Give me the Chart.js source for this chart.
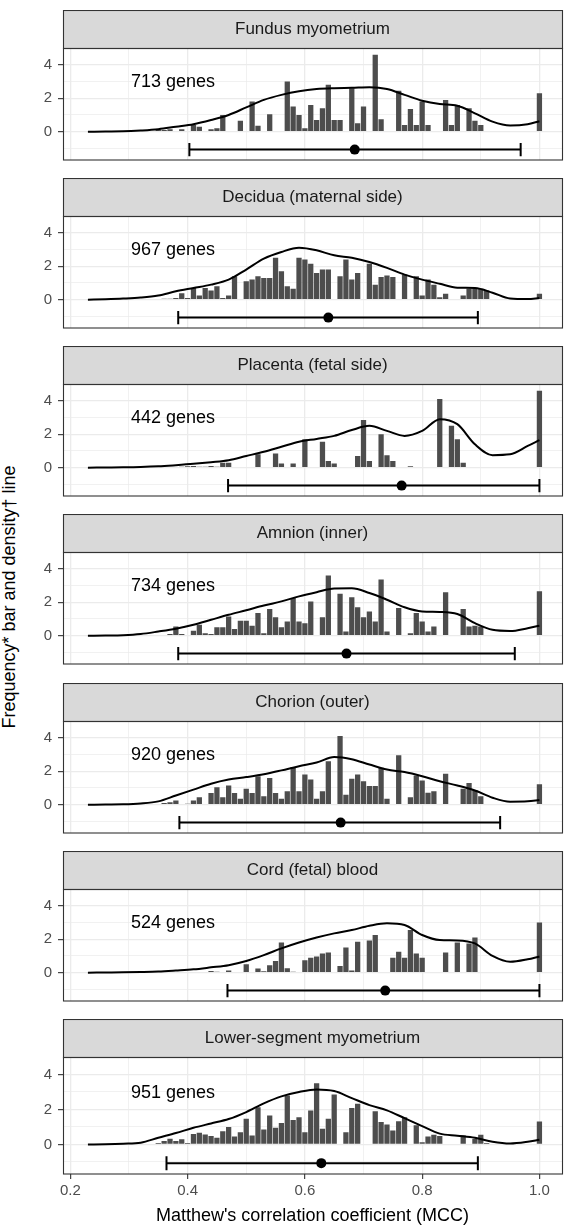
<!DOCTYPE html>
<html>
<head>
<meta charset="utf-8">
<script src="https://cdn.jsdelivr.net/npm/chart.js@4/dist/chart.umd.min.js"></script>
<style>
  html, body { margin: 0; padding: 0; background: #fff; width: 564px; height: 1231px; overflow: hidden; position: relative; }
  canvas { position: absolute; left: 0; }
  #ytitle {
    position: absolute; left: -190px; top: 586px; width: 400px; height: 22px; line-height: 22px;
    text-align: center; transform: rotate(-90deg); white-space: nowrap;
    font: 18px "Liberation Sans", Arial, sans-serif; color: #000;
  }
</style>
</head>
<body>
<div id="ytitle">Frequency* bar and density† line</div>
<script>
// Facet titles and annotation counts
const PANELS = [
  'Fundus myometrium', 'Decidua (maternal side)', 'Placenta (fetal side)',
  'Amnion (inner)', 'Chorion (outer)', 'Cord (fetal) blood', 'Lower-segment myometrium'
];
const GENES = [713, 967, 442, 734, 920, 524, 951];

// Axis ticks
const X_TICKS = [0.2, 0.3, 0.4, 0.5, 0.6, 0.7, 0.8, 0.9, 1.0];
const X_LABELED = [0.2, 0.4, 0.6, 0.8, 1.0];
const Y_TICKS = [-1, 0, 1, 2, 3, 4];
const Y_LABELED = [0, 2, 4];

// Histogram bin centres (width 0.01)
const BINS = [
  0.34, 0.35, 0.36, 0.37, 0.38, 0.39, 0.40, 0.41, 0.42, 0.43,
  0.44, 0.45, 0.46, 0.47, 0.48, 0.49, 0.50, 0.51, 0.52, 0.53,
  0.54, 0.55, 0.56, 0.57, 0.58, 0.59, 0.60, 0.61, 0.62, 0.63,
  0.64, 0.65, 0.66, 0.67, 0.68, 0.69, 0.70, 0.71, 0.72, 0.73,
  0.74, 0.75, 0.76, 0.77, 0.78, 0.79, 0.80, 0.81, 0.82, 0.83,
  0.84, 0.85, 0.86, 0.87, 0.88, 0.89, 0.90, 0.91, 0.92, 0.93,
  0.94, 0.95, 0.96, 0.97, 0.98, 0.99, 1.00
];

// Bar heights per panel, aligned with BINS
const BARS_FUNDUS = [
  0, 0.15, 0.1, 0.15, 0, 0.15, 0, 0.4, 0.3, 0,
  0.15, 0.2, 1.0, 0, 0, 0.65, 0, 1.8, 0.35, 0,
  1.05, 0, 0, 3.0, 1.5, 1.0, 0.2, 1.6, 0.7, 1.4,
  2.8, 0.7, 0.7, 0, 2.6, 0.5, 1.5, 0, 4.6, 0.75,
  0, 0, 2.45, 0.4, 1.35, 0.4, 1.8, 0.4, 0, 0,
  1.9, 0.4, 1.6, 0, 1.4, 0.65, 0.4, 0, 0, 0,
  0, 0, 0, 0, 0, 0, 2.3
];
const BARS_DECIDUA = [
  0, 0, 0.05, 0.05, 0.1, 0.38, 0.1, 0.7, 0.25, 0.7,
  0.55, 0.8, 0.1, 0.25, 1.4, 0, 1.1, 1.2, 1.4, 1.3,
  1.3, 2.5, 1.7, 0.8, 0.65, 2.5, 2.4, 2.15, 1.6, 1.8,
  1.8, 0, 1.4, 2.4, 1.2, 1.6, 0, 2.15, 0.9, 1.35,
  1.45, 1.35, 0, 1.5, 0, 1.4, 0.25, 1.2, 0.9, 0.15,
  0.35, 0, 0, 0.25, 0.65, 0.65, 0.65, 0.55, 0, 0,
  0, 0, 0, 0, 0, 0, 0.35
];
const BARS_PLACENTA = [
  0, 0, 0, 0, 0, 0.05, 0.08, 0.1, 0.05, 0.05,
  0.1, 0.05, 0.3, 0.3, 0, 0, 0, 0, 0.8, 0,
  0, 0.85, 0.25, 0, 0.25, 0, 1.7, 0, 0, 1.55,
  0.4, 0.25, 0, 0, 0, 0.7, 2.85, 0.4, 0, 2.0,
  0.75, 0.4, 0, 0, 0.08, 0, 0, 0, 0, 4.1,
  0, 2.5, 1.7, 0.3, 0, 0, 0, 0, 0, 0,
  0, 0, 0, 0, 0, 0, 4.6
];
const BARS_AMNION = [
  0, 0, 0, 0.1, 0.55, 0.1, 0, 0.3, 0.65, 0.15,
  0.1, 0.5, 0.5, 1.15, 0.4, 0.9, 0.9, 0.6, 1.35, 0.15,
  1.6, 1.1, 0.5, 0.85, 2.25, 0.85, 0.75, 2.05, 0, 1.1,
  3.6, 0, 2.5, 0.25, 2.3, 1.7, 1.1, 1.45, 0.85, 3.35,
  0.25, 0, 1.65, 0, 0.15, 1.35, 0.85, 0.25, 0.55, 0,
  2.6, 0, 0, 1.6, 0.55, 0.6, 0.55, 0, 0, 0,
  0, 0, 0, 0, 0, 0, 2.65
];
const BARS_CHORION = [
  0, 0, 0.1, 0.15, 0.25, 0, 0.05, 0.25, 0.45, 0,
  0.7, 1.05, 0.45, 1.15, 0.7, 0.35, 0.95, 0.7, 1.7, 0.5,
  1.6, 0.7, 0.35, 0.8, 2.25, 0.8, 1.8, 1.5, 0.35, 0.8,
  2.6, 0, 4.1, 0.6, 1.55, 1.8, 1.4, 1.12, 1.12, 2.2,
  0.35, 0, 2.95, 0, 0.45, 1.75, 1.45, 0.72, 0.8, 0,
  1.85, 0, 0, 0.95, 1.3, 0.88, 0.5, 0, 0, 0,
  0, 0, 0, 0, 0, 0, 1.22
];
const BARS_CORD = [
  0, 0, 0, 0, 0, 0, 0, 0, 0, 0,
  0.1, 0.05, 0, 0.13, 0.04, 0, 0.5, 0, 0.25, 0.08,
  0.45, 0.7, 1.8, 0.27, 0.05, 0, 0.75, 0.9, 0.97, 1.15,
  1.2, 0, 0.4, 1.5, 0.13, 1.85, 0, 1.92, 2.25, 0,
  0, 0.9, 1.25, 0.9, 2.55, 1.15, 0.9, 0, 0, 0,
  1.2, 0, 1.8, 0, 1.75, 2.1, 0, 0, 0, 0,
  0, 0, 0, 0, 0, 0, 3.0
];
const BARS_LOWER = [
  0, 0.08, 0.2, 0.32, 0.2, 0.3, 0.08, 0.6, 0.67, 0.57,
  0.48, 0.38, 0.76, 1.0, 0.46, 0.7, 1.47, 0.51, 2.13, 0.86,
  1.66, 0.95, 1.22, 2.8, 1.4, 1.56, 0.7, 1.94, 3.5, 0.9,
  1.47, 2.86, 0, 0.7, 2.08, 2.32, 0, 0, 1.9, 1.28,
  1.14, 0.8, 1.33, 1.56, 0, 1.09, 0.13, 0.46, 0.55, 0.48,
  0, 0, 0, 0.51, 0, 0.32, 0.55, 0.08, 0, 0,
  0, 0, 0, 0, 0, 0, 1.31
];
const BARS = [BARS_FUNDUS, BARS_DECIDUA, BARS_PLACENTA, BARS_AMNION, BARS_CHORION, BARS_CORD, BARS_LOWER];

// Density curve, read at these x positions
const DENS_X = [
  0.23, 0.26, 0.29, 0.32, 0.35, 0.38, 0.41, 0.44, 0.47, 0.50, 0.53, 0.56, 0.59, 0.62,
  0.65, 0.68, 0.71, 0.74, 0.77, 0.80, 0.83, 0.86, 0.89, 0.92, 0.95, 0.98, 1.00
];
const DENS_FUNDUS   = [0, 0.01, 0.02, 0.07, 0.15, 0.3, 0.45, 0.7, 1.0, 1.45, 1.9, 2.2, 2.42, 2.55, 2.6, 2.62, 2.65, 2.55, 2.2, 1.85, 1.65, 1.55, 1.1, 0.6, 0.37, 0.45, 0.63];
const DENS_DECIDUA  = [0, 0.03, 0.07, 0.13, 0.25, 0.5, 0.7, 0.9, 1.2, 1.8, 2.45, 2.85, 3.1, 2.95, 2.65, 2.5, 2.25, 1.9, 1.5, 1.2, 0.95, 0.72, 0.7, 0.42, 0.07, 0.04, 0.1];
const DENS_PLACENTA = [0, 0.01, 0.02, 0.04, 0.08, 0.15, 0.23, 0.33, 0.45, 0.7, 0.95, 1.25, 1.55, 1.72, 1.9, 2.25, 2.5, 2.2, 1.9, 2.2, 2.9, 2.6, 1.4, 0.75, 0.8, 1.3, 1.65];
const DENS_AMNION   = [0, 0.01, 0.03, 0.1, 0.25, 0.42, 0.65, 0.95, 1.25, 1.52, 1.8, 2.05, 2.35, 2.6, 2.82, 2.83, 2.55, 2.15, 1.7, 1.45, 1.42, 1.3, 0.75, 0.35, 0.28, 0.45, 0.6];
const DENS_CHORION  = [0, 0.01, 0.02, 0.07, 0.2, 0.55, 0.9, 1.25, 1.5, 1.65, 1.82, 2.05, 2.3, 2.52, 2.85, 2.72, 2.4, 2.1, 1.95, 1.7, 1.4, 1.15, 0.85, 0.42, 0.18, 0.2, 0.28];
const DENS_CORD     = [0, 0.01, 0.02, 0.04, 0.07, 0.13, 0.2, 0.32, 0.45, 0.7, 1.05, 1.45, 1.8, 2.1, 2.35, 2.55, 2.8, 2.95, 2.85, 2.25, 1.95, 1.93, 1.75, 1.0, 0.65, 0.8, 0.97];
const DENS_LOWER    = [0, 0.01, 0.04, 0.1, 0.38, 0.65, 0.95, 1.2, 1.45, 1.85, 2.35, 2.75, 3.0, 3.14, 3.05, 2.65, 2.25, 1.95, 1.5, 1.05, 0.62, 0.5, 0.38, 0.15, 0.05, 0.15, 0.27];
const DENS = [DENS_FUNDUS, DENS_DECIDUA, DENS_PLACENTA, DENS_AMNION, DENS_CHORION, DENS_CORD, DENS_LOWER];

// Interval (horizontal error bar) and centre point per panel
const ERR_LO  = [0.403, 0.384, 0.469, 0.384, 0.386, 0.468, 0.364];
const ERR_MID = [0.685, 0.640, 0.765, 0.671, 0.661, 0.737, 0.628];
const ERR_HI  = [0.968, 0.895, 1.000, 0.958, 0.933, 1.000, 0.895];
const ERR_Y = -1.07;
const CAP = 0.4;
const LABEL_X = 0.375, LABEL_Y = 2.95;

const X_MIN = 0.1875, X_MAX = 1.0385;
const Y_MIN = -1.69, Y_MAX = 4.97;

const FONT = '"Liberation Sans", Arial, Helvetica, sans-serif';
const isIn = (list, v) => list.some(t => Math.abs(t - v) < 1e-6);

const facetPlugin = {
  id: 'facet',
  beforeDraw(chart) {
    const { ctx, chartArea: a } = chart;
    ctx.save();
    ctx.fillStyle = '#d9d9d9';
    ctx.fillRect(a.left, 0.5, a.right - a.left, a.top - 0.5);
    ctx.restore();
  },
  afterDatasetsDraw(chart, args, opts) {
    const { ctx, scales } = chart;
    ctx.save();
    ctx.fillStyle = '#000';
    ctx.font = '18px ' + FONT;
    ctx.textAlign = 'center';
    ctx.textBaseline = 'middle';
    ctx.fillText(opts.genes + ' genes', scales.x.getPixelForValue(LABEL_X), scales.y.getPixelForValue(LABEL_Y));
    ctx.restore();
  },
  afterDraw(chart, args, opts) {
    const { ctx, chartArea: a } = chart;
    ctx.save();
    ctx.strokeStyle = '#333';
    ctx.lineWidth = 1.1;
    ctx.strokeRect(a.left + 0.5, 0.5, a.right - a.left, a.top - 0.5);
    ctx.strokeRect(a.left + 0.5, a.top, a.right - a.left, a.bottom - a.top);
    ctx.fillStyle = '#1a1a1a';
    ctx.font = '17px ' + FONT;
    ctx.textAlign = 'center';
    ctx.textBaseline = 'middle';
    ctx.fillText(opts.title, (a.left + a.right) / 2, a.top / 2 + 0.5);
    ctx.restore();
  }
};

function makePanel(i) {
  const last = i === PANELS.length - 1;
  const canvas = document.createElement('canvas');
  canvas.width = 567;
  canvas.height = last ? 212 : 155;
  canvas.style.top = Math.round(9.5 + i * 168.3) + 'px';
  document.body.appendChild(canvas);

  const bars = BINS.map((b, k) => ({ x: b, y: BARS[i][k] })).filter(p => p.y > 0);
  const dens = DENS_X.map((x, k) => ({ x, y: DENS[i][k] }));
  const line = (data) => ({
    type: 'line', data, borderColor: '#000', borderWidth: 2, pointRadius: 0, order: 1
  });

  new Chart(canvas, {
    type: 'bar',
    data: {
      datasets: [
        { type: 'line', data: [{ x: ERR_MID[i], y: ERR_Y }], showLine: false, pointRadius: 5,
          pointBackgroundColor: '#000', pointBorderWidth: 0, order: 0 },
        line([{ x: ERR_LO[i], y: ERR_Y }, { x: ERR_HI[i], y: ERR_Y }]),
        line([{ x: ERR_LO[i], y: ERR_Y - CAP }, { x: ERR_LO[i], y: ERR_Y + CAP }]),
        line([{ x: ERR_HI[i], y: ERR_Y - CAP }, { x: ERR_HI[i], y: ERR_Y + CAP }]),
        { type: 'line', data: dens, borderColor: '#000', borderWidth: 2, pointRadius: 0,
          cubicInterpolationMode: 'monotone', order: 2 },
        { type: 'bar', data: bars, backgroundColor: '#4d4d4d', borderWidth: 0,
          barPercentage: 0.9, categoryPercentage: 1, order: 5 }
      ]
    },
    options: {
      responsive: false,
      animation: false,
      events: [],
      layout: { padding: { top: 38.5, left: 0, right: 0, bottom: 0 } },
      plugins: {
        legend: { display: false },
        tooltip: { enabled: false },
        facet: { title: PANELS[i], genes: GENES[i] }
      },
      scales: {
        x: {
          type: 'linear', min: X_MIN, max: X_MAX, offset: false,
          afterBuildTicks: s => { s.ticks = X_TICKS.map(v => ({ value: v })); },
          afterFit: s => { s.height = last ? 57 : 0; s.paddingLeft = 0; s.paddingRight = 0; },
          border: { display: false },
          grid: {
            offset: false,
            color: '#ebebeb',
            lineWidth: c => (c.tick && isIn(X_LABELED, c.tick.value)) ? 1.3 : 0.7,
            drawTicks: last,
            tickLength: 5,
            tickWidth: 1.1,
            tickColor: c => (c.tick && isIn(X_LABELED, c.tick.value)) ? '#333' : 'rgba(0,0,0,0)'
          },
          ticks: {
            display: last, autoSkip: false, maxRotation: 0, padding: 3,
            color: '#4d4d4d', font: { family: FONT, size: 15 },
            callback: v => isIn(X_LABELED, v) ? v.toFixed(1) : ''
          },
          title: {
            display: last, text: "Matthew's correlation coefficient (MCC)", color: '#000',
            font: { family: FONT, size: 18 }, padding: { top: 4, bottom: 4 }
          }
        },
        y: {
          type: 'linear', min: Y_MIN, max: Y_MAX,
          afterBuildTicks: s => { s.ticks = Y_TICKS.map(v => ({ value: v })); },
          afterFit: s => { s.width = 63; s.paddingTop = 0; s.paddingBottom = 0; },
          border: { display: false },
          grid: {
            color: '#ebebeb',
            lineWidth: c => (c.tick && isIn(Y_LABELED, c.tick.value)) ? 1.3 : 0.7,
            tickLength: 5,
            tickWidth: 1.1,
            tickColor: c => (c.tick && isIn(Y_LABELED, c.tick.value)) ? '#333' : 'rgba(0,0,0,0)'
          },
          ticks: {
            padding: 6, color: '#4d4d4d', font: { family: FONT, size: 15 },
            callback: v => isIn(Y_LABELED, v) ? String(v) : ''
          }
        }
      }
    },
    plugins: [facetPlugin]
  });
}

PANELS.forEach((_, i) => makePanel(i));
</script>
</body>
</html>
